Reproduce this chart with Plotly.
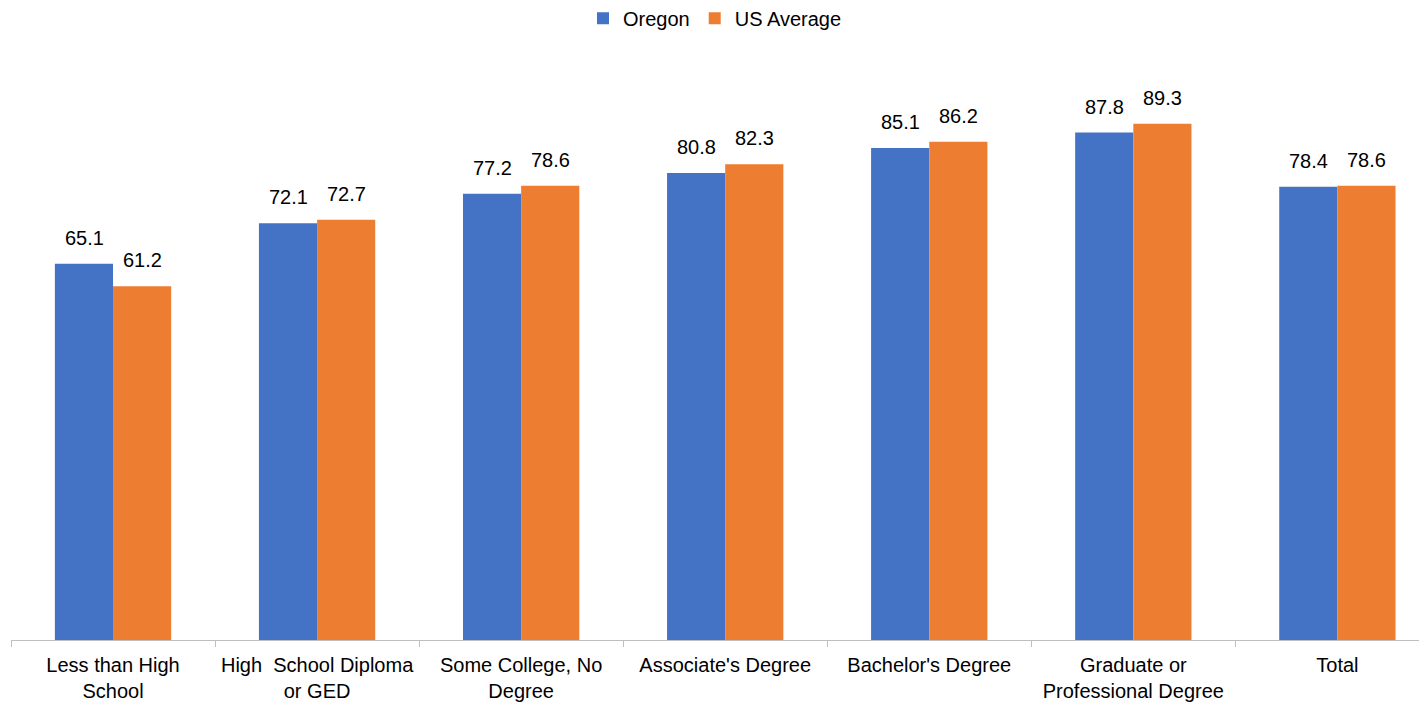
import plotly.graph_objects as go

categories = ["Less than High<br>School", "High  School Diploma<br>or GED", "Some College, No<br>Degree",
              "Associate's Degree", "Bachelor's Degree", "Graduate or<br>Professional Degree", "Total"]
oregon = [65.1, 72.1, 77.2, 80.8, 85.1, 87.8, 78.4]
us_avg = [61.2, 72.7, 78.6, 82.3, 86.2, 89.3, 78.6]

FONT = "Liberation Sans, Arial, sans-serif"
BLUE = "#4472C4"
ORANGE = "#ED7D31"

fig = go.Figure()
fig.add_trace(go.Bar(x=categories, y=oregon, name="Oregon", marker_color=BLUE, marker_line_width=0))
fig.add_trace(go.Bar(x=categories, y=us_avg, name="US Average", marker_color=ORANGE, marker_line_width=0))

# data labels above each bar
for series, shift in ((oregon, -29), (us_avg, 29)):
    for cat, v in zip(categories, series):
        fig.add_annotation(x=cat, y=v, xref="x", yref="y", text=f"{v:.1f}", showarrow=False,
                           xshift=shift, yanchor="bottom", yshift=13,
                           font=dict(size=20, color="#000000", family=FONT))

fig.update_layout(
    width=1419, height=702,
    margin=dict(l=11, r=0, t=62, b=62, autoexpand=False),
    barmode="group", bargap=0.43, bargroupgap=0,
    plot_bgcolor="white", paper_bgcolor="white",
    font=dict(family=FONT, size=20, color="#000000"),
    legend=dict(orientation="h", x=0.5, xanchor="center", y=0.974, yref="container", yanchor="middle",
                font=dict(size=20), traceorder="normal"),
    xaxis=dict(range=[-0.5, 6.4], showline=True, linecolor="#BFBFBF", linewidth=1, automargin=False,
               ticks="outside", tickson="boundaries", ticklen=6, tickcolor="#BFBFBF",
               ticklabelstandoff=7,
               tickfont=dict(size=20, color="#000000"), showgrid=False),
    yaxis=dict(range=[0, 100], visible=False, showgrid=False, automargin=False),
)
fig.write_html("out.html", config={"displayModeBar": False},
               post_script="document.body.style.margin='0';document.body.style.overflow='hidden';")
